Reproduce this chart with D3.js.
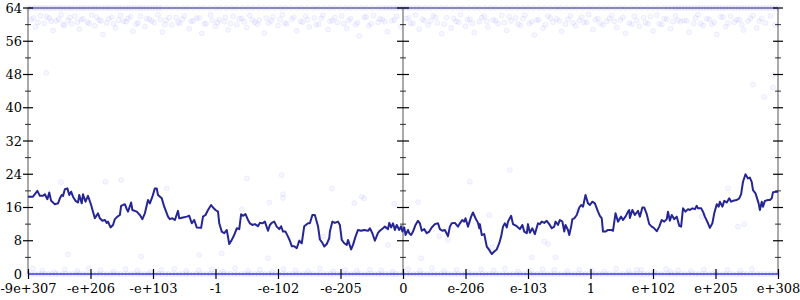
<!DOCTYPE html>
<html>
<head>
<meta charset="utf-8">
<script src="https://cdn.jsdelivr.net/npm/d3@7"></script>
<style>
  body { margin: 0; background: #fff; }
  text { font-family: 'DejaVu Serif', serif; font-size: 13px; fill: #000; }
</style>
</head>
<body>
<div id="chart"></div>
<script>
// x axis: ordered doubles, one unit per labelled tick, 0 in the middle
let xTicks = [-6, -5, -4, -3, -2, -1, 0, 1, 2, 3, 4, 5, 6]
let xTickLabels = ['-9e+307', '-e+206', '-e+103', '-1', '-e-102', '-e-205', '0',
    'e-206', 'e-103', '1', 'e+102', 'e+205', 'e+308']
let yTicks = [0, 8, 16, 24, 32, 40, 48, 56, 64]
let yMinorTicks = [4, 12, 20, 28, 36, 44, 52, 60]

// running average (dark line)
let lineX = [-6.00, -5.92, -5.85, -5.81, -5.76, -5.73, -5.69, -5.66, -5.63, -5.57, -5.52, -5.49, -5.46, -5.44, -5.41, -5.37,
    -5.34, -5.31, -5.28, -5.24, -5.20, -5.18, -5.14, -5.12, -5.08, -5.04, -4.99, -4.96, -4.93, -4.88, -4.85, -4.81, -4.77,
    -4.74, -4.72, -4.68, -4.64, -4.61, -4.57, -4.53, -4.51, -4.45, -4.42, -4.40, -4.35, -4.33, -4.26, -4.21, -4.17, -4.13,
    -4.08, -4.05, -4.01, -3.97, -3.94, -3.92, -3.86, -3.82, -3.76, -3.73, -3.69, -3.65, -3.60, -3.58,
    -3.57, -3.52, -3.46, -3.42, -3.38, -3.34, -3.30, -3.23, -3.20, -3.16, -3.12, -3.07, -3.04, -3.00, -2.96, -2.94, -2.90,
    -2.86, -2.82, -2.78, -2.74, -2.70, -2.66, -2.62, -2.59, -2.56, -2.52, -2.48, -2.45, -2.41, -2.37, -2.32, -2.29, -2.25,
    -2.21, -2.16, -2.13, -2.10, -2.06, -2.02, -1.98, -1.95, -1.92, -1.88, -1.84, -1.81, -1.78, -1.74, -1.70, -1.66, -1.62,
    -1.58, -1.52, -1.49, -1.45, -1.41, -1.36, -1.33, -1.29, -1.26, -1.22, -1.18,
    -1.17, -1.13, -1.09, -1.04, -1.01, -0.98, -0.94, -0.90, -0.88, -0.83, -0.80, -0.76, -0.72, -0.67, -0.62, -0.56, -0.53,
    -0.49, -0.45, -0.40, -0.37, -0.32, -0.29, -0.24, -0.22, -0.19, -0.16, -0.13, -0.10, -0.06, -0.03, -0.01, 0.02, 0.04,
    0.08, 0.10, 0.13, 0.16, 0.20, 0.24, 0.27, 0.30, 0.34, 0.38, 0.42, 0.46, 0.51, 0.56, 0.59, 0.63, 0.67, 0.72, 0.75,
    0.78, 0.83, 0.88, 0.91, 0.95, 0.98, 1.00, 1.04, 1.09, 1.12, 1.16, 1.20, 1.22,
    1.23, 1.26, 1.30, 1.34, 1.38, 1.42, 1.46, 1.50, 1.54, 1.57, 1.60, 1.63, 1.66, 1.68, 1.73, 1.76, 1.82, 1.87, 1.91,
    1.94, 1.98, 2.00, 2.03, 2.07, 2.11, 2.16, 2.19, 2.22, 2.26, 2.30, 2.34, 2.38, 2.42, 2.44, 2.48, 2.51, 2.55, 2.58,
    2.60, 2.64, 2.66, 2.69, 2.71, 2.74, 2.78, 2.82, 2.85, 2.88, 2.92, 2.96, 2.99, 3.03, 3.07, 3.12, 3.15, 3.18, 3.20,
    3.24, 3.28, 3.33, 3.36, 3.40, 3.44, 3.49, 3.52, 3.56, 3.60, 3.62,
    3.63, 3.67, 3.71, 3.76, 3.79, 3.83, 3.86, 3.90, 3.94, 3.98, 4.02, 4.06, 4.10, 4.14, 4.18, 4.22, 4.24, 4.27, 4.30,
    4.34, 4.38, 4.42, 4.45, 4.48, 4.52, 4.56, 4.59, 4.63, 4.67, 4.70, 4.72, 4.77, 4.80, 4.83, 4.88, 4.91, 4.95, 4.98,
    5.02, 5.05, 5.07, 5.11, 5.14, 5.18, 5.22, 5.25, 5.28, 5.34, 5.38, 5.41, 5.44, 5.48, 5.52, 5.55, 5.58, 5.60, 5.64,
    5.69, 5.71, 5.74, 5.76, 5.79, 5.84, 5.87, 5.90, 5.92, 6.00]
let lineY = [18.6, 18.6, 20.0, 18.8, 18.8, 19.2, 18.0, 19.6, 17.6, 16.8, 17.0, 18.2, 19.0, 18.8, 20.4, 20.6,
    19.0, 19.8, 18.6, 17.6, 17.2, 19.0, 17.0, 19.2, 17.4, 18.8, 16.6, 15.0, 13.4, 14.6, 13.4, 12.8, 13.0,
    12.3, 12.6, 11.2, 11.8, 13.2, 13.8, 14.2, 16.4, 16.8, 15.6, 15.0, 17.2, 15.4, 15.0, 14.2, 13.2, 14.6,
    17.8, 17.0, 18.6, 20.6, 20.6, 19.0, 18.2, 16.2, 13.8, 13.2, 13.4, 13.0, 15.2, 13.4,
    13.4, 13.6, 13.8, 14.0, 12.2, 13.0, 11.2, 11.1, 13.8, 14.2, 15.4, 16.6, 16.0, 15.4, 15.0, 12.2, 10.2,
    9.8, 10.6, 7.2, 8.2, 9.4, 11.0, 10.8, 14.4, 14.0, 14.4, 13.0, 12.2, 11.8, 12.0, 11.5, 12.3, 12.2,
    12.6, 10.4, 11.8, 12.3, 12.6, 11.4, 10.8, 11.5, 10.2, 10.2, 9.0, 8.0, 6.7, 6.7, 6.2, 8.0, 7.4,
    11.5, 12.2, 12.2, 14.2, 14.2, 11.5, 8.3, 7.5, 6.6, 7.2, 8.6,
    10.2, 12.6, 12.3, 12.6, 11.8, 8.2, 7.4, 7.0, 8.2, 5.9, 7.0, 9.0, 10.6, 10.4, 10.6, 10.4, 11.0,
    9.8, 8.0, 9.9, 10.4, 11.0, 11.4, 10.8, 12.3, 11.2, 12.2, 10.6, 11.8, 10.6, 11.5, 10.2, 11.2, 9.4,
    10.6, 9.8, 9.4, 10.2, 11.8, 12.8, 12.2, 10.4, 10.8, 9.8, 10.2, 11.2, 12.0, 12.2, 10.8, 10.4, 10.6, 9.1, 11.4,
    12.2, 12.3, 11.4, 12.2, 13.0, 12.6, 13.4, 11.4, 13.8, 14.8, 13.4, 12.3, 11.0,
    12.0, 9.4, 9.6, 6.6, 5.8, 4.8, 5.4, 5.9, 7.4, 9.0, 11.4, 12.2, 11.2, 12.6, 14.0, 12.0, 11.5, 10.8, 11.8,
    10.2, 9.8, 12.0, 9.9, 11.0, 9.6, 12.2, 12.0, 12.6, 12.3, 12.8, 12.0, 11.0, 11.4, 12.6, 11.8, 13.0, 12.6, 10.2,
    11.8, 10.6, 9.4, 11.4, 13.2, 13.4, 14.2, 16.0, 16.6, 16.2, 19.0, 17.0, 16.6, 17.4, 17.0, 15.0, 14.0, 13.4, 10.2,
    10.2, 10.6, 10.6, 10.4, 14.6, 12.6, 13.8, 13.0, 13.8, 15.0, 15.4,
    13.5, 15.4, 14.2, 15.2, 13.8, 16.0, 16.0, 14.4, 12.0, 11.4, 11.0, 10.3, 11.4, 13.0, 12.6, 13.2, 15.0, 12.8, 14.2,
    13.2, 13.8, 11.6, 11.4, 15.8, 15.0, 15.6, 15.4, 15.8, 15.6, 16.4, 15.8, 15.8, 15.0, 13.8, 12.2, 11.1, 12.2, 14.6,
    16.8, 16.2, 17.4, 16.2, 17.6, 17.2, 18.2, 17.4, 17.6, 17.8, 18.2, 19.2, 22.2, 24.0, 23.0, 23.2, 22.1, 20.2, 19.4,
    17.0, 15.4, 17.4, 16.2, 17.6, 17.8, 17.8, 18.2, 19.7, 19.8]

// samples sitting exactly on 64 and on 0
let topEdgeX = [-6.00, -5.95, -5.90, -5.86, -5.81, -5.76, -5.72, -5.67, -5.62, -5.58, -5.53, -5.48, -5.44, -5.39, -5.34,
    -5.30, -5.25, -5.20, -5.15, -5.11, -5.06, -5.01, -4.96, -4.92, -4.87, -4.82, -4.77, -4.73, -4.68, -4.63, -4.58,
    -4.54, -4.49, -4.44, -4.39, -4.35, -4.30, -4.25, -4.20, -4.16, -4.11, -4.06, -4.01, -3.96, -3.91, -3.86, -3.78,
    -3.70, -3.61, -3.52, -3.44, -3.35, -3.26, -3.18, -3.09, -3.00, -2.92, -2.83, -2.74, -2.66, -2.57, -2.48, -2.40,
    -2.31, -2.22, -2.14, -2.05, -1.96, -1.88, -1.79, -1.70, -1.62, -1.53, -1.44, -1.36, -1.27, -1.18, -1.10, -1.01,
    -0.92, -0.84, -0.75, -0.66, -0.58, -0.49, -0.40, -0.33, -0.27, -0.21, -0.15, -0.10, -0.05, 0.00, 0.05, 0.10,
    0.16, 0.22, 0.28, 0.36, 0.44, 0.53, 0.62, 0.70, 0.79, 0.88, 0.96, 1.05, 1.14, 1.22, 1.31, 1.40, 1.48, 1.57,
    1.66, 1.74, 1.83, 1.92, 2.00, 2.09, 2.18, 2.26, 2.35, 2.44, 2.52, 2.61, 2.70, 2.78, 2.87, 2.96, 3.04, 3.13,
    3.22, 3.30, 3.39, 3.48, 3.56, 3.65, 3.74, 3.82, 3.91, 4.00, 4.08, 4.17, 4.24, 4.30, 4.36, 4.41, 4.46, 4.51,
    4.56, 4.61, 4.66, 4.71, 4.76, 4.81, 4.86, 4.91, 4.96, 5.01, 5.06, 5.11, 5.16, 5.21, 5.26, 5.31, 5.36, 5.41,
    5.46, 5.51, 5.56, 5.61, 5.66, 5.71, 5.76, 5.81, 5.86, 5.91, 5.96, 6.00]
let zeroEdgeX = [-6.00, -5.95, -5.89, -5.84, -5.78, -5.73, -5.67, -5.62, -5.56, -5.51, -5.45, -5.40, -5.34, -5.29,
    -5.23, -5.18, -5.12, -5.07, -5.01, -4.96, -4.90, -4.85, -4.79, -4.74, -4.68, -4.63, -4.57, -4.52, -4.46, -4.41,
    -4.35, -4.30, -4.24, -4.19, -4.13, -4.08, -4.02, -3.97, -3.91, -3.86, -3.80, -3.75, -3.69, -3.64, -3.58, -3.53,
    -3.47, -3.42, -3.36, -3.31, -3.25, -3.20, -3.14, -3.09, -3.03, -2.98, -2.92, -2.87, -2.81, -2.76, -2.70, -2.65,
    -2.59, -2.54, -2.48, -2.43, -2.37, -2.32, -2.26, -2.21, -2.15, -2.10, -2.04, -1.99, -1.93, -1.88, -1.82, -1.77,
    -1.71, -1.66, -1.60, -1.55, -1.49, -1.44, -1.38, -1.33, -1.27, -1.22, -1.16, -1.11, -1.05, -1.00, -0.94, -0.89,
    -0.83, -0.78, -0.72, -0.67, -0.61, -0.56, -0.50, -0.45, -0.39, -0.34, -0.28, -0.23, -0.17, -0.12, -0.06, 0.00,
    0.06, 0.11, 0.17, 0.22, 0.28, 0.33, 0.39, 0.44, 0.50, 0.55, 0.61, 0.66, 0.72, 0.77, 0.83, 0.88, 0.94, 0.99,
    1.05, 1.10, 1.16, 1.21, 1.27, 1.32, 1.38, 1.43, 1.49, 1.54, 1.60, 1.65, 1.71, 1.76, 1.82, 1.87, 1.93, 1.98,
    2.04, 2.09, 2.15, 2.20, 2.26, 2.31, 2.37, 2.42, 2.48, 2.53, 2.59, 2.64, 2.70, 2.75, 2.81, 2.86, 2.92, 2.97,
    3.03, 3.08, 3.14, 3.19, 3.25, 3.30, 3.36, 3.41, 3.47, 3.52, 3.58, 3.63, 3.69, 3.74, 3.80, 3.85, 3.91, 3.96,
    4.02, 4.07, 4.13, 4.18, 4.24, 4.29, 4.35, 4.40, 4.46, 4.51, 4.57, 4.62, 4.68, 4.73, 4.79, 4.84, 4.90, 4.95,
    5.01, 5.06, 5.12, 5.17, 5.23, 5.28, 5.34, 5.39, 5.45, 5.50, 5.56, 5.61, 5.67, 5.72, 5.78, 5.83, 5.89, 5.94, 6.00]

// remaining samples: the cloud under 64, a few strays, the cloud over 0
let dotX = [-5.95, -5.88, -5.80, -5.74, -5.66, -5.60, -5.55, -5.47, -5.42, -5.36, -5.30, -5.25, -5.18, -5.12, -5.05,
    -4.98, -4.93, -4.86, -4.80, -4.74, -4.66, -4.60, -4.52, -4.47, -4.40, -4.32, -4.27, -4.20, -4.13, -4.06, -3.98,
    -3.92, -3.85, -3.79, -3.70, -3.63, -3.57, -3.50, -3.42, -3.36, -3.30, -3.22, -3.15, -3.08, -3.00, -2.94, -2.86,
    -2.80, -2.72, -2.66, -2.58, -2.50, -2.45, -2.37, -2.30, -2.22, -2.15, -2.08, -2.00, -1.93, -1.86, -1.78, -1.70,
    -1.64, -1.56, -1.50, -1.42, -1.35, -1.28, -1.20, -1.13, -1.05, -0.98, -0.90, -0.84, -0.76, -0.70, -0.62, -0.55,
    -0.47, -0.40, -0.33, -0.25, -0.18, -0.10, -0.04, 0.05, 0.12, 0.20, 0.26, 0.34, 0.40, 0.48, 0.55, 0.62, 0.70,
    0.77, 0.85, 0.92, 1.00, 1.07, 1.14, 1.22, 1.30, 1.36, 1.44, 1.52, 1.58, 1.66, 1.73, 1.80, 1.88, 1.95, 2.02,
    2.10, 2.17, 2.24, 2.32, 2.40, 2.46, 2.54, 2.60, 2.68, 2.76, 2.82, 2.90, 2.97, 3.04, 3.12, 3.20, 3.26, 3.34,
    3.42, 3.48, 3.56, 3.62, 3.70, 3.78, 3.85, 3.92, 4.00, 4.06, 4.14, 4.22, 4.28, 4.36, 4.44, 4.50, 4.58, 4.65,
    4.72, 4.80, 4.86, 4.94, 5.02, 5.08, 5.16, 5.24, 5.30, 5.38, 5.45, 5.52, 5.60, 5.66, 5.74, 5.80, 5.88, 5.95,
    -5.91, -5.84, -5.70, -5.63, -5.51, -5.44, -5.33, -5.21, -5.15, -5.02, -4.90, -4.83, -4.71, -4.63, -4.55, -4.43,
    -4.36, -4.24, -4.10, -4.02, -3.88, -3.81, -3.74, -3.60, -3.53, -3.39, -3.26, -3.18, -3.05, -2.97, -2.84, -2.76,
    -2.62, -2.54, -2.41, -2.33, -2.19, -2.11, -1.97, -1.89, -1.75, -1.61, -1.53, -1.39, -1.31, -1.17, -1.09, -0.95,
    -0.87, -0.73, -0.59, -0.51, -0.37, -0.29, -0.14, 0.09, 0.16, 0.31, 0.44, 0.52, 0.66, 0.81, 0.89, 1.03, 1.11,
    1.26, 1.34, 1.48, 1.62, 1.70, 1.84, 1.92, 2.06, 2.14, 2.28, 2.36, 2.50, 2.64, 2.72, 2.86, 2.94, 3.08, 3.16,
    3.30, 3.38, 3.52, 3.66, 3.74, 3.88, 3.96, 4.10, 4.18, 4.32, 4.40, 4.54, 4.68, 4.76, 4.90, 4.98, 5.12, 5.20,
    5.34, 5.42, 5.56, 5.70, 5.78, 5.92,
    -5.71, -4.51, -3.78, -5.36, -4.19, -5.47, -4.76, -2.50, -2.14, -1.92, -2.58, -1.28, -1.65, -3.26, -2.90, -2.16,
    -1.94, -1.92, 0.24, -0.14, -0.78, -0.66, -0.62, 0.58, 0.72, -0.24, 0.29, -1.14, 1.07, 1.38, 2.26, 2.32, 1.43,
    2.06, 2.44, 1.71, 2.80, 5.36, 5.46, 4.78, 5.20, 5.92, 5.60, 3.74, 4.28,
    -5.92, -5.77, -5.58, -5.41, -5.21, -5.03, -4.84, -4.63, -4.44, -4.25, -4.04, -3.87, -3.66, -3.47, -3.27, -3.06,
    -2.88, -2.69, -2.48, -2.29, -2.10, -1.91, -1.72, -1.52, -1.33, -1.12, -0.93, -0.74, -0.53, -0.35, -0.16, 0.08,
    0.27, 0.46, 0.66, 0.86, 1.04, 1.25, 1.45, 1.63, 1.84, 2.03, 2.23, 2.42, 2.63, 2.82, 3.02, 3.22, 3.41, 3.61,
    3.81, 4.02, 4.21, 4.40, 4.61, 4.81, 5.00, 5.19, 5.40, 5.58, 5.79, 5.97]
let dotY = [61.2, 59.4, 62.1, 60.3, 61.6, 58.6, 60.9, 62.4, 59.8, 61.0, 60.2, 62.0, 58.9, 61.4, 60.6,
    62.3, 59.7, 61.1, 57.6, 60.4, 61.8, 59.2, 62.2, 60.8, 61.5, 58.4, 60.1, 62.0, 59.5, 61.3, 60.5,
    62.4, 58.2, 61.0, 59.9, 61.7, 60.3, 62.1, 59.0, 60.9, 61.6, 57.9, 60.2, 62.3, 59.6, 61.2, 60.7,
    58.7, 62.0, 60.0, 61.5, 59.3, 62.2, 60.6, 61.1, 58.0, 60.4, 61.9, 59.8, 62.4, 60.2, 61.3, 58.5,
    60.8, 62.0, 59.4, 61.6, 60.1, 62.3, 58.8, 61.0, 60.5, 62.1, 59.1, 61.4, 60.0, 57.3, 61.8, 59.7,
    62.2, 60.6, 61.2, 58.3, 60.9, 62.0, 59.5, 61.5, 60.3, 62.3, 58.9, 61.0, 59.9, 62.1, 60.4, 57.8, 61.7,
    59.2, 60.8, 62.4, 59.6, 61.3, 58.1, 60.7, 62.0, 59.4, 61.1, 60.2, 62.2, 58.6, 60.9, 61.6, 59.8, 62.3, 60.3,
    57.5, 61.2, 59.1, 62.0, 60.6, 61.4, 58.4, 60.1, 62.1, 59.7, 61.0, 60.5, 62.4, 58.8, 61.5, 59.9, 60.8, 62.2,
    59.3, 61.1, 57.9, 60.4, 62.0, 59.6, 61.7, 60.2, 58.5, 62.3, 60.0, 61.3, 59.0, 62.1, 60.7, 61.0, 58.2, 60.3,
    62.4, 59.8, 61.4, 60.1, 57.6, 61.9, 59.5, 62.0, 60.6, 61.2, 58.7, 60.9, 62.2, 59.2, 61.5, 60.4, 62.1, 59.9,
    61.6, 60.5, 61.9, 60.8, 61.3, 60.1, 61.7, 60.6, 61.2, 60.3, 61.8, 60.9, 61.4, 60.2, 61.1, 60.7,
    61.9, 60.4, 61.5, 60.9, 61.2, 60.0, 61.7, 60.6, 61.3, 60.8, 61.6, 60.2, 61.0, 60.5, 61.8, 60.3,
    61.4, 60.7, 61.1, 60.1, 61.6, 60.9, 61.3, 60.4, 61.8, 60.6, 61.2, 60.0, 61.5, 60.8, 61.7, 60.3,
    61.0, 60.5, 61.9, 60.2, 61.4, 60.7, 61.1, 61.6, 60.4, 61.3, 60.9, 61.8, 60.1, 61.5, 60.6, 61.2, 60.3,
    61.7, 60.8, 61.0, 60.5, 61.9, 60.2, 61.4, 60.7, 61.1, 60.0, 61.6, 60.9, 61.3, 60.4, 61.8, 60.6, 61.2,
    60.3, 61.5, 60.8, 61.7, 60.1, 61.0, 60.5, 61.9, 60.2, 61.4, 60.7, 61.1, 60.9, 61.6, 60.3, 61.3, 60.6,
    61.8, 60.4, 61.2, 60.0, 61.5, 60.8,
    42.6, 47.9, 48.4, 22.6, 20.6, 4.7, 4.2, 22.1, 22.2, 23.0, 17.2, 18.3, 15.6, 9.0, 7.8, 4.6,
    5.0, 3.8, 23.8, 19.2, 17.3, 16.9, 17.1, 18.6, 18.2, 9.1, 8.2, 7.0, 3.8, 20.6, 22.2, 14.2, 7.8,
    7.2, 6.4, 4.0, 4.0, 25.0, 15.2, 11.4, 12.0, 13.8, 20.6, 44.9, 45.6,
    1.0, 0.6, 1.3, 0.8, 0.5, 1.1, 0.7, 1.4, 0.9, 0.6, 1.2, 0.8, 0.5, 1.0, 1.3, 0.7,
    0.9, 1.1, 0.6, 1.4, 0.8, 1.0, 0.5, 1.2, 0.9, 0.7, 1.3, 0.6, 1.0, 0.8, 1.1, 0.9,
    0.6, 1.2, 0.8, 1.4, 0.7, 1.0, 0.5, 1.1, 0.9, 1.3, 0.6, 0.8, 1.2, 1.0, 0.7, 1.1, 0.9, 0.6,
    1.3, 0.8, 1.0, 0.5, 1.2, 0.9, 0.7, 1.1, 0.6, 1.0, 0.8, 1.2]

let svgWidth = 800
let svgHeight = 300
let padding = {'left': 28, 'right': 22, 'top': 8, 'bottom': 26}

let svg = d3.select('#chart').append('svg')
    .attr('width', svgWidth)
    .attr('height', svgHeight)

let x = d3.scaleLinear()
    .domain([-6, 6])
    .range([padding.left, svgWidth - padding.right])
let y = d3.scaleLinear()
    .domain([0, 64])
    .range([svgHeight - padding.bottom, padding.top])

// frame: outer box + middle axis
let frame = svg.append('g')
    .attr('stroke', '#aaa')
    .attr('stroke-width', 2)
frame.append('line')
    .attr('x1', x(-6)).attr('x2', x(6))
    .attr('y1', y(64)).attr('y2', y(64))
frame.selectAll('.vline')
    .data([-6, 0, 6])
    .enter()
    .append('line')
    .attr('x1', d => x(d)).attr('x2', d => x(d))
    .attr('y1', y(0)).attr('y2', y(64))

// samples
let dots = svg.append('g')
    .attr('fill', 'rgba(0, 0, 255, 0.035)')
    .attr('stroke', 'rgba(0, 0, 255, 0.06)')
    .attr('stroke-width', 1)
dots.selectAll('.dot')
    .data(d3.zip(dotX, dotY))
    .enter()
    .append('circle')
    .attr('cx', d => x(d[0]))
    .attr('cy', d => y(d[1]))
    .attr('r', 2.5)
dots.selectAll('.top')
    .data(topEdgeX)
    .enter()
    .append('circle')
    .attr('cx', d => x(d))
    .attr('cy', y(64))
    .attr('r', 2.5)
dots.selectAll('.zero')
    .data(zeroEdgeX)
    .enter()
    .append('circle')
    .attr('cx', d => x(d))
    .attr('cy', y(0))
    .attr('r', 2.5)
// the edges sit right on the frame, so they read as a blue stripe
svg.append('g')
    .selectAll('line')
    .data([[0, '#3b3be0', 0.75], [64, '#6a6ad8', 0.45]])
    .enter()
    .append('line')
    .attr('stroke', d => d[1])
    .attr('stroke-width', 2)
    .attr('opacity', d => d[2])
    .attr('x1', x(-6)).attr('x2', x(6))
    .attr('y1', d => y(d[0])).attr('y2', d => y(d[0]))

// running average
let line = d3.line()
    .x(d => x(d[0]))
    .y(d => y(d[1]))
svg.append('path')
    .datum(d3.zip(lineX, lineY))
    .attr('fill', 'none')
    .attr('stroke', '#252596')
    .attr('stroke-width', 2)
    .attr('stroke-linejoin', 'round')
    .attr('d', line)

// y ticks on the left, middle and right axes
let axes = [[-6, 5, 3], [0, 6, 3], [6, 5, 3]]
axes.forEach(a => {
    let g = svg.append('g').attr('stroke', '#000').attr('stroke-width', 1.2)
    g.selectAll('.major')
        .data(yTicks.slice(1))
        .enter()
        .append('line')
        .attr('x1', x(a[0]) - a[1]).attr('x2', x(a[0]) + a[1])
        .attr('y1', d => y(d)).attr('y2', d => y(d))
    g.selectAll('.minor')
        .data(yMinorTicks)
        .enter()
        .append('line')
        .attr('stroke-width', 0.8)
        .attr('x1', x(a[0]) - a[2]).attr('x2', x(a[0]) + a[2])
        .attr('y1', d => y(d)).attr('y2', d => y(d))
})

let axis_y = d3.axisLeft(y)
    .tickValues(yTicks)
    .tickSize(0)
    .tickPadding(6)
    .tickFormat(d => d)
svg.append('g')
    .attr('transform', `translate(${padding.left}, 0)`)
    .call(axis_y)
    .call(g => g.select('.domain').remove())
    .selectAll('text')
    .attr('font-family', 'DejaVu Serif')
    .attr('font-size', 13)

let axis_x = d3.axisBottom(x)
    .tickValues(xTicks)
    .tickSize(10)
    .tickPadding(5)
    .tickFormat((d, i) => xTickLabels[i])
let gx = svg.append('g')
    .attr('transform', `translate(0, ${y(0) - 5})`)
    .call(axis_x)
gx.select('.domain').remove()
gx.selectAll('.tick line').attr('stroke', '#000').attr('stroke-width', 1.2)
gx.selectAll('text')
    .attr('font-family', 'DejaVu Serif')
    .attr('font-size', 13)
</script>
</body>
</html>
